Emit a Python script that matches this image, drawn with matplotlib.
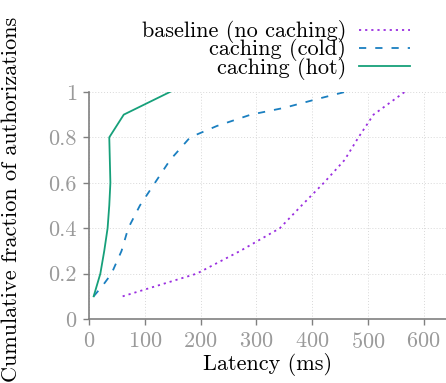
import matplotlib
matplotlib.use("Agg")
import matplotlib.pyplot as plt

plt.rcParams['font.family'] = ['cmr10', 'DejaVu Serif']
plt.rcParams['axes.formatter.use_mathtext'] = True

# cumulative fractions
frac = [0.1, 0.2, 0.3, 0.4, 0.5, 0.6, 0.7, 0.8, 0.9, 1.0]
baseline_lat = [60, 193, 271, 342, 381, 421, 458, 483, 510, 566]

cold_frac = [0.1, 0.15, 0.2, 0.3, 0.4, 0.5, 0.6, 0.7, 0.8, 0.85, 0.9, 0.93, 0.97, 1.0]
cold_lat = [8, 25, 40, 58, 70, 91, 118, 145, 181, 229, 290, 350, 411, 459]

hot_lat = [8, 20, 27, 33, 36, 38, 37, 36, 62, 145]

xticks = [0, 100, 200, 300, 400, 500, 600]
yticks = [0, 0.2, 0.4, 0.6, 0.8, 1]
ytick_labels = ["0", "0.2", "0.4", "0.6", "0.8", "1"]

fig = plt.figure(figsize=(4.46, 3.83), dpi=100)
ax = fig.add_axes([0.2, 0.167, 0.8, 0.593])

ax.plot(baseline_lat, frac, color="#9a2ee0", linestyle=(0, (1.2, 2.2)), linewidth=1.3,
        label="baseline (no caching)")
ax.plot(cold_lat, cold_frac, color="#1a7fc0", linestyle=(0, (4, 5)), linewidth=1.3,
        label="caching (cold)")
ax.plot(hot_lat, frac, color="#16a07a", linestyle="-", linewidth=1.3,
        label="caching (hot)")

ax.set_xlim(0, 640)
ax.set_ylim(0, 1)
ax.set_xticks(xticks)
ax.set_yticks(yticks)
ax.set_yticklabels(ytick_labels)
ax.grid(True, linestyle=(0, (1, 2)), color="#d8d8d8", linewidth=0.7)
ax.set_axisbelow(True)

for s in ["top", "right"]:
    ax.spines[s].set_visible(False)
for s in ["left", "bottom"]:
    ax.spines[s].set_color("#808080")
    ax.spines[s].set_linewidth(1.2)
ax.tick_params(colors="#808080", labelsize=16, length=4, width=1, pad=5)
for lab in ax.get_xticklabels() + ax.get_yticklabels():
    lab.set_color("#9a9a9a")

ax.set_xlabel("Latency (ms)", fontsize=16, labelpad=1)
ax.set_ylabel("Cumulative fraction of authorizations", fontsize=16)
ax.yaxis.set_label_coords(-0.19, 0.525)

fig.legend(loc="upper right", bbox_to_anchor=(0.94, 0.97), frameon=False, markerfirst=False,
           fontsize=16, handlelength=2.3, labelspacing=-0.22, handletextpad=0.6,
           borderaxespad=0)

fig.savefig("out.png", dpi=100)
